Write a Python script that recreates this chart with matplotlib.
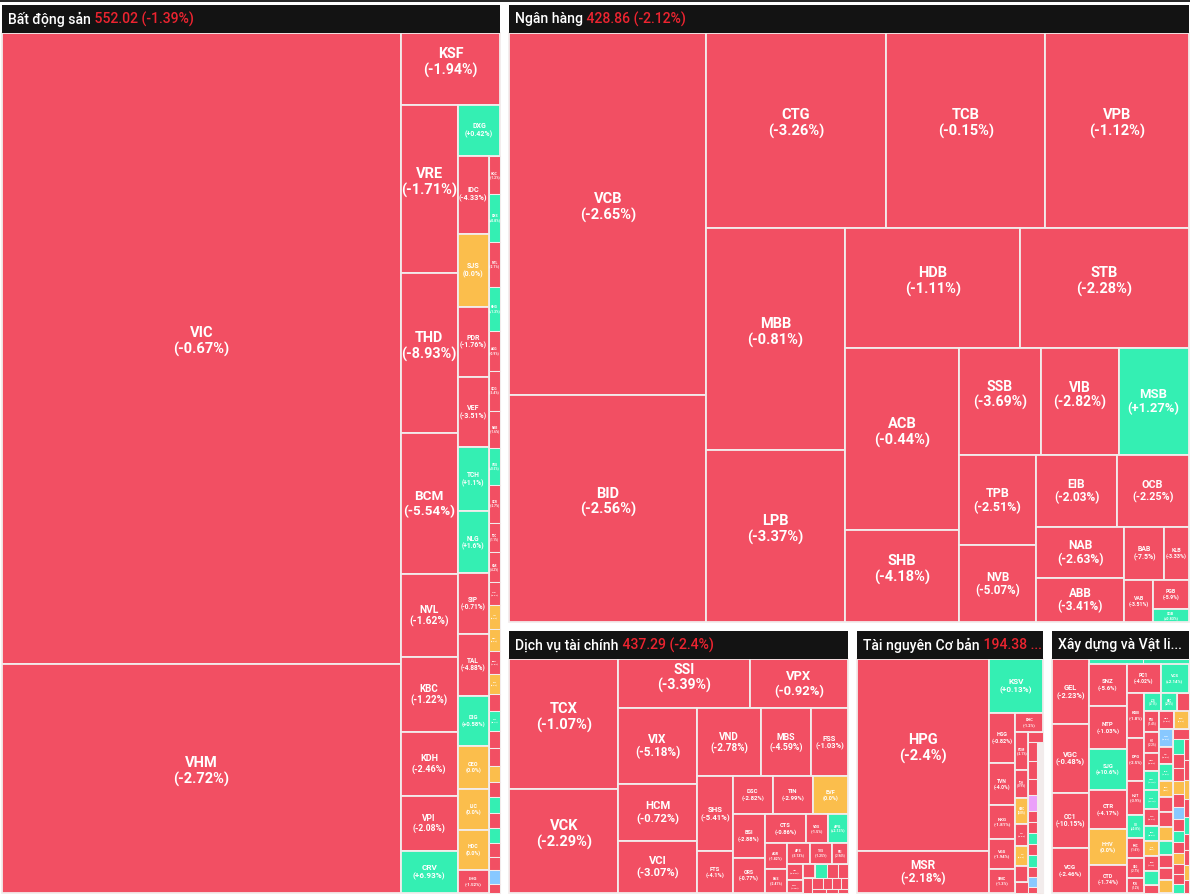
import math
import matplotlib
matplotlib.use('Agg')
import matplotlib.pyplot as plt
from matplotlib.patches import Rectangle

# ---------------- data ----------------
sector_names = ['Bất động sản', 'Ngân hàng', 'Dịch vụ tài chính', 'Tài nguyên Cơ bản', 'Xây dựng và Vật liệu']
sector_index = ['552.02', '428.86', '437.29', '194.38', '171.25']
sector_change = ['(-1.39%)', '(-2.12%)', '(-2.4%)', '(-2.08%)', '(-2.31%)']
sector_caps = [455228, 431032, 94000, 52748, 39358]

bds_tickers = ['VIC', 'VHM', 'KSF', 'VRE', 'THD', 'BCM', 'NVL', 'KBC', 'KDH', 'VPI', 'CRV', 'DXG', 'IDC',
               'SJS', 'PDR', 'VEF', 'TCH', 'NLG', 'SIP', 'TAL', 'DIG', 'CEO', 'IJC', 'HDC', 'LHG',
               'HQC', 'DXS', 'NTL', 'KHG', 'AGG', 'QCG', 'NBB', 'CKG', 'SCR', 'TDC', 'HAR', 'LDG', 'ITC',
               'NVT', 'DRH', 'PTL', 'HPX', 'CCL', 'SZC', 'D2D', 'VRC', 'FDC', 'DTA', 'TIX', 'NHA', 'API',
               'CSC', 'LGL', 'SGR']
bds_change = ['-0.67', '-2.72', '-1.94', '-1.71', '-8.93', '-5.54', '-1.62', '-1.22', '-2.46', '-2.08',
              '+6.93', '+0.42', '-4.33', '0.0', '-1.76', '-3.51', '+1.1', '+1.6', '-0.71', '-4.88',
              '+0.58', '0.0', '0.0', '0.0', '-1.52',
              '-1.2', '+0.8', '-2.1', '+1.3', '-0.9', '-3.4', '-1.6', '+0.5', '-2.7', '-1.1', '-4.2',
              '-0.6', '0.0', '0.0', '-1.9', '0.0', '-2.3', '+2.1', '-0.8', '-3.1', '0.0', '-1.4', '+0.9',
              '-2.5', '+1.7', '-0.5', '-3.8', '-6.9', '-1.0']
bds_caps = [251138, 91142, 7200, 9576, 9120, 8037, 4731, 4275, 3648, 3135, 2394, 2150, 2418, 2263,
            2170, 2170, 1984, 1922, 1891, 1891, 1550, 1333, 1271, 1240, 713,
            456, 564, 528, 516, 468, 468, 444, 432, 444, 348, 348, 276, 276, 264, 264, 240, 204, 228,
            204, 204, 192, 180, 192, 168, 180, 168, 144, 168, 108]

nh_tickers = ['VCB', 'BID', 'CTG', 'TCB', 'VPB', 'MBB', 'LPB', 'HDB', 'STB', 'ACB', 'SHB', 'SSB', 'VIB',
              'MSB', 'TPB', 'NVB', 'EIB', 'OCB', 'NAB', 'ABB', 'BAB', 'KLB', 'VAB', 'PGB', 'SGB']
nh_change = ['-2.65', '-2.56', '-3.26', '-0.15', '-1.12', '-0.81', '-3.37', '-1.11', '-2.28', '-0.44',
             '-4.18', '-3.69', '-2.82', '+1.27', '-2.51', '-5.07', '-2.03', '-2.25', '-2.63', '-3.41',
             '-7.5', '-3.33', '-3.51', '-5.9', '+0.83']
nh_caps = [70952, 44688, 35100, 31005, 27885, 30858, 24047, 21000, 20160, 20566, 10509, 8774, 8346,
           7490, 6930, 6006, 5751, 5112, 4524, 3915, 2120, 1272, 1232, 1044, 468]

dv_tickers = ['TCX', 'VCK', 'SSI', 'VPX', 'VIX', 'HCM', 'VCI', 'VND', 'MBS', 'FSS', 'SHS', 'FTS', 'DSC',
              'TIN', 'EVF', 'BSI', 'ORS', 'CTS', 'VDS', 'APG', 'AGR', 'BVS', 'APS', 'TVS', 'PSI', 'IVS',
              'WSS', 'TVB', 'HBS', 'VIG', 'EVS', 'SBS', 'BMS', 'DSE', 'VFS', 'PHS', 'AAS', 'CSI', 'TCI']
dv_change = ['-1.07', '-2.29', '-3.39', '-0.92', '-5.18', '-0.72', '-3.07', '-2.78', '-4.59', '-1.03',
             '-5.41', '-4.1', '-2.82', '-2.99', '0.0', '-2.88', '-0.77', '-0.86', '-1.5', '+2.13',
             '-1.82', '-2.41', '-3.13', '-1.25', '-2.94', '-0.84', '-1.62', '-2.2', '+1.43', '-3.5',
             '-1.1', '-2.05', '-0.92', '-1.7', '-2.6', '-1.33', '-3.0', '-0.7', '-1.9']
dv_caps = [14040, 11340, 6468, 4802, 6004, 4582, 4108, 4352, 3400, 2516, 2660, 1470, 1520, 1520, 1330,
           1408, 1152, 1189, 638, 580, 560, 520, 470, 460, 330, 270, 200, 180, 170, 160, 150, 140, 120,
           100, 90, 80, 60, 50, 40]

tn_tickers = ['HPG', 'MSR', 'KSV', 'HSG', 'TVN', 'NKG', 'VGS', 'SMC', 'DHC', 'POM', 'TLH', 'HMC', 'SHI',
              'TIS', 'KKC', 'DTL', 'BKC', 'TNA', 'DNY', 'TKU', 'TTS', 'SSM', 'NSH', 'VIS', 'TVH', 'HLA',
              'CAP', 'HSV', 'ITQ', 'SHA', 'TDS', 'VCA', 'TNI', 'KMT', 'HGM', 'BMC', 'MTA', 'KCB', 'DCS',
              'TMG', 'LCM']
tn_change = ['-2.4', '-2.18', '+0.13', '-0.82', '-4.0', '-1.81', '-1.94', '-1.3', '-1.2',
             '-2.1', '-0.9', '0.0', '-3.2', '0.0', '-1.5', '-2.6', '-1.1',
             '-1.7', '-2.3', '-0.6', '+7.0', '-3.0', '-1.4', '+1.2', '-2.2', '+0.9', '-0.5', '-9.9', '-1.8',
             '-2.5', '-1.1', '0.0', '+1.6', '0.0', '-0.7', '-3.3', '+0.4', '0.0', '-1.9', '0.0', '+2.2']
tn_caps = [25090, 5460, 2856, 1326, 1118, 884, 806, 624, 540,
           470, 336, 322, 272, 248, 198, 136, 150,
           168, 166, 150, 140, 104, 102, 100, 98, 108, 98, 84, 58,
           96, 88, 86, 80, 78, 74, 72, 68, 66, 63, 61, 58]

xd_tickers = ['GEL', 'VGC', 'CC1', 'VCG', 'HT1', 'BMP', 'SNZ', 'NTP', 'SJG', 'CTR', 'HHV', 'CTD', 'PC1',
              'VCS', 'KSB', 'DPG', 'HUT', 'CII', 'PHC', 'C4G', 'FCN', 'LCG', 'HBC', 'DHA', 'PTB', 'HID',
              'VNE', 'TCD', 'HHS', 'CDC', 'BCC', 'TV2', 'SCG', 'DTD', 'G36',
              'MCG', 'PVX', 'HTN', 'LIG', 'DLG', 'SDU', 'TEG', 'ICG', 'L14', 'VMC', 'HDA', 'PXI', 'CIG',
              'VC2', 'VC7', 'S99', 'DC4', 'HVH', 'C47', 'CVT', 'LHC', 'BCE', 'HTI', 'ROS', 'TGG', 'DDG',
              'VC3', 'SCI', 'PLC', 'THG', 'MST', 'QTC', 'CTI', 'VE1', 'NDX', 'KTT']
xd_change = ['-2.23', '-0.48', '-10.15', '-2.46', '+0.35', '+0.52', '-5.6', '-1.03', '+10.6', '-4.17',
             '0.0', '-1.74', '-4.02', '+2.14', '-1.8', '-2.5', '-3.9', '+0.8', '-1.6', '-2.7', '-1.2',
             '+1.1', '+0.6', '-2.0', '-1.4', '-2.2', '-0.9', '+1.5', '+0.7', '-3.1', '+0.4', '0.0',
             '-1.9', '+2.3', '-2.6',
             '-1.2', '0.0', '-6.9', '-2.4', '+1.3', '0.0', '-0.8', '-1.9', '0.0', '+0.7', '-3.1', '-1.5',
             '0.0', '-2.2', '+2.4', '-0.6', '-1.1', '0.0', '-2.9', '-9.8', '-1.3', '+1.1', '-0.9', '0.0',
             '-2.0', '-1.4', '+0.5', '-3.6', '-1.7', '0.0', '-0.4', '+1.9', '-2.7', '-1.0', '0.0', '-1.6']
xd_caps = [2340, 2484, 2016, 1620, 216, 180, 1591, 1591, 1517, 1480, 1332, 1036, 986, 812,
           765, 748, 578, 391, 357, 340, 255, 289, 272, 204,
           300, 300, 270, 270, 270, 255, 210, 210, 225, 195, 120,
           262, 248, 240, 236, 221, 214, 205, 198, 190, 186, 177, 172, 168, 160, 155, 151, 146, 140,
           137, 131, 126, 122, 118, 113, 109, 104, 99, 96, 92, 88, 83, 79, 75, 70, 66, 62]

ceiling_tickers = ['TTS']
floor_tickers = ['LGL', 'HSV', 'HTN', 'CVT']

# tiling: number of tiles in each successive column/row strip (alternating)
sector_rows = [1, 1, 1, 2]
tile_rows = [
    [2, 1, 8, 1, 13, 1, 28],
    [2, 3, 2, 2, 2, 3, 2, 2, 2, 2, 1, 1, 1],
    [2, 2, 3, 3, 2, 3, 2, 3, 2, 3, 2, 4],
    [2, 1, 5, 1, 7, 1, 12, 12],
    [4, 2, 6, 2, 7, 3, 11],
]
sector_data = [
    (bds_tickers, bds_change, bds_caps),
    (nh_tickers, nh_change, nh_caps),
    (dv_tickers, dv_change, dv_caps),
    (tn_tickers, tn_change, tn_caps),
    (xd_tickers, xd_change, xd_caps),
]

# ---------------- style ----------------
RED = '#F24F63'
TEAL = '#34EFB3'
YELLOW = '#FBBE4C'
BLUE = '#88C8FF'
PURPLE = '#EBA0FA'
HEADER_BG = '#131313'
HEADER_RED = '#EC2430'
EDGE = '#F2ECEC'
W, H = 1190, 896


def tile_color(t, ch):
    if t in ceiling_tickers:
        return PURPLE
    if t in floor_tickers:
        return BLUE
    v = float(ch)
    if v > 0:
        return TEAL
    if v < 0:
        return RED
    return YELLOW


def worst(vals, L, scale):
    s = sum(vals) * scale
    t = s / L
    r = 0.0
    for v in vals:
        ln = v * scale / t
        r = max(r, t / ln, ln / t)
    return r


def tile(values, x0, y0, x1, y1, counts=(), vertical=True):
    n = len(values)
    rects = [None] * n
    rem = float(sum(values))
    i = 0
    k = 0
    while i < n:
        w, h = x1 - x0, y1 - y0
        if k < len(counts):
            j = min(n, i + counts[k])
        else:
            L = h if vertical else w
            scale = w * h / rem
            j = i + 1
            while j < n and worst(values[i:j + 1], L, scale) <= worst(values[i:j], L, scale):
                j += 1
        s = float(sum(values[i:j]))
        if vertical:
            cw = w * s / rem if j < n else w
            yy = y0
            for t in range(i, j):
                hh = h * values[t] / s
                rects[t] = (x0, yy, cw, hh)
                yy += hh
            x0 += cw
        else:
            rh = h * s / rem if j < n else h
            xx = x0
            for t in range(i, j):
                ww = w * values[t] / s
                rects[t] = (xx, y0, ww, rh)
                xx += ww
            y0 += rh
        rem -= s
        i = j
        k += 1
        vertical = not vertical
    return rects


fig = plt.figure(figsize=(W / 100, H / 100), dpi=100)
ax = fig.add_axes([0, 0, 1, 1])
ax.set_xlim(0, W)
ax.set_ylim(H, 0)
ax.axis('off')
fig.patch.set_facecolor('white')
renderer = fig.canvas.get_renderer()

PX = 0.72  # points per pixel at 100 dpi
HFONT = dict(family=['Roboto', 'DejaVu Sans'], fontsize=14 * PX, fontweight='medium')


def measure(s):
    t = ax.text(0, 0, s, **HFONT)
    bb = t.get_window_extent(renderer)
    t.remove()
    return bb.width


ax.add_patch(Rectangle((0, 0), W, 2, facecolor='#2a2a2a', edgecolor='none'))

pad = 4.5
head = 28
sect_rects = tile(sector_caps, -2.5, 0.5, 1193, 897.5, counts=sector_rows)

for si, (sx, sy, sw, sh) in enumerate(sect_rects):
    ix, iy, iw, ih = sx + pad, sy + pad, sw - 2 * pad, sh - 2 * pad
    tickers, changes, caps = sector_data[si]
    rects = tile(caps, ix, iy + head, ix + iw, iy + ih, counts=tile_rows[si])
    for t, ch, (x, y, w, h) in zip(tickers, changes, rects):
        lw = 1.3 if min(w, h) >= 12 else 0.75
        ax.add_patch(Rectangle((x, y), w, h, facecolor=tile_color(t, ch), edgecolor=EDGE,
                               linewidth=lw, zorder=2))
        fs = min(14.6, h / 3.5, 0.15 * math.sqrt(w * h) * max(1.0, w / h) ** 0.33)
        if fs < 2.2:
            continue
        shift = -0.47 * fs if fs >= 13.5 else 0.0
        cx, cy = x + w / 2, y + h / 2 + shift
        kw = dict(ha='center', va='center', color='white', fontsize=fs * PX, fontweight='bold',
                  family=['Roboto', 'DejaVu Sans'], zorder=3)
        ax.text(cx, cy - 0.56 * fs, t, **kw)
        ax.text(cx, cy + 0.56 * fs, '(' + ch + '%)', **kw)

    # header
    ax.add_patch(Rectangle((ix, iy), iw, head, facecolor=HEADER_BG, edgecolor='none', zorder=4))
    name = sector_names[si]
    rest = ' ' + sector_index[si] + ' ' + sector_change[si]
    full = name + rest
    avail = iw - 7
    tx, ty = ix + 6, iy + head / 2
    if measure(full) <= avail:
        ax.text(tx, ty, name, color='white', ha='left', va='center', zorder=5, **HFONT)
        ax.text(tx + measure(name), ty, rest, color=HEADER_RED, ha='left', va='center', zorder=5, **HFONT)
    else:
        k = len(full)
        while k > 0 and measure(full[:k] + '...') > avail:
            k -= 1
        if k <= len(name):
            ax.text(tx, ty, name[:k] + '...', color='white', ha='left', va='center', zorder=5, **HFONT)
        else:
            ax.text(tx, ty, name, color='white', ha='left', va='center', zorder=5, **HFONT)
            ax.text(tx + measure(name), ty, full[len(name):k] + '...', color=HEADER_RED,
                    ha='left', va='center', zorder=5, **HFONT)

fig.savefig('out.png', dpi=100, facecolor='white')
